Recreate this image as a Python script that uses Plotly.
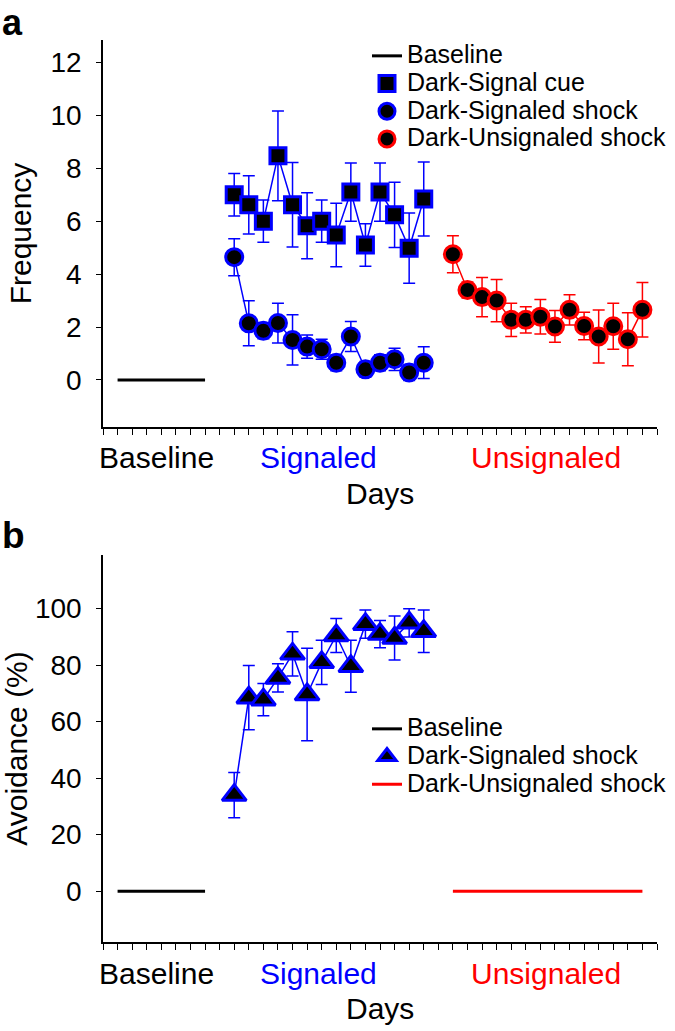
import plotly.graph_objects as go

# ---------------- data ----------------
baseline_days = [1, 7]
baseline_vals = [0, 0]

signaled_days = list(range(9, 23))
unsignaled_days = list(range(24, 38))

cue_freq = [7.0, 6.62, 6.0, 8.47, 6.62, 5.83, 6.0, 5.48, 7.1, 5.1, 7.1, 6.24, 4.98, 6.84]
cue_err = [0.8, 1.1, 0.8, 1.7, 1.6, 1.25, 0.8, 1.2, 1.1, 0.8, 1.1, 1.23, 1.33, 1.4]

sig_shock_freq = [4.64, 2.14, 1.86, 2.15, 1.51, 1.26, 1.16, 0.65, 1.64, 0.4, 0.65, 0.78, 0.28, 0.65]
sig_shock_err = [0.7, 0.85, 0.3, 0.75, 0.95, 0.44, 0.38, 0.3, 0.57, 0.3, 0.3, 0.42, 0.3, 0.6]

unsig_shock_freq = [4.75, 3.4, 3.13, 3.0, 2.27, 2.27, 2.39, 2.02, 2.65, 2.04, 1.64, 2.03, 1.54, 2.65]
unsig_shock_err = [0.7, 0.3, 0.74, 0.8, 0.63, 0.5, 0.65, 0.6, 0.57, 0.52, 1.0, 0.87, 1.0, 1.03]

avoid_sig = [34, 68.5, 67.8, 75.5, 84, 69.6, 81, 90.5, 79.6, 94.5, 91, 89.6, 95, 92]
avoid_sig_err = [8, 11.4, 5.7, 5, 7.8, 16.4, 7.8, 6, 9.2, 5, 4.8, 7.8, 5, 7.5]
avoid_unsig_days = [24, 37]
avoid_unsig_vals = [0, 0]

group_labels = ["Baseline", "Signaled", "Unsignaled"]
group_colors = ["black", "blue", "red"]
group_centers = [3.7, 14.8, 30.4]

freq_ticks = [0, 2, 4, 6, 8, 10, 12]
avoid_ticks = [0, 20, 40, 60, 80, 100]

# ---------------- layout geometry ----------------
W, H = 675, 1031
ML, MR, MT, MB = 103, 18, 40, 89
PH = H - MT - MB
PW = W - ML - MR


def py(p):
    return 1 - (p - MT) / PH


def px(p):
    return (p - ML) / PW


BLUE = "#0000FF"
RED = "#FF0000"
FONT = "Liberation Sans, Arial, sans-serif"

fig = go.Figure()


def add_series(xs, ys, err, color, symbol, size, name, xa, ya, legend):
    fig.add_trace(go.Scatter(x=xs, y=ys, mode="lines", line=dict(color=color, width=1.5),
                             showlegend=False, hoverinfo="skip", xaxis=xa, yaxis=ya))
    fig.add_trace(go.Scatter(x=xs, y=ys, mode="markers", name=name,
                             error_y=dict(type="data", array=err, color=color, thickness=1.5, width=6),
                             marker=dict(symbol=symbol, size=size, color="black",
                                         line=dict(color=color, width=3)),
                             xaxis=xa, yaxis=ya, legend=legend))


def lg(txt):
    return '<span style="font-size:25px">' + txt + '</span>'


# Panel a
fig.add_trace(go.Scatter(x=baseline_days, y=baseline_vals, mode="lines", name=lg("Baseline"),
                         line=dict(color="black", width=3), xaxis="x", yaxis="y", legend="legend"))
add_series(signaled_days, cue_freq, cue_err, BLUE, "square", 16, lg("Dark-Signal cue"), "x", "y", "legend")
add_series(signaled_days, sig_shock_freq, sig_shock_err, BLUE, "circle", 17, lg("Dark-Signaled shock"), "x", "y", "legend")
add_series(unsignaled_days, unsig_shock_freq, unsig_shock_err, RED, "circle", 17, lg("Dark-Unsignaled shock"), "x", "y", "legend")

# Panel b
fig.add_trace(go.Scatter(x=baseline_days, y=baseline_vals, mode="lines", name=lg("Baseline"),
                         line=dict(color="black", width=3), xaxis="x2", yaxis="y2", legend="legend2"))
add_series(signaled_days, avoid_sig, avoid_sig_err, BLUE, "triangle-up", 21, lg("Dark-Signaled shock"), "x2", "y2", "legend2")
fig.add_trace(go.Scatter(x=avoid_unsig_days, y=avoid_unsig_vals, mode="lines", name=lg("Dark-Unsignaled shock"),
                         line=dict(color=RED, width=3), xaxis="x2", yaxis="y2", legend="legend2"))

xcommon = dict(range=[0, 38], tickmode="linear", tick0=0, dtick=1, ticks="outside", ticklen=6,
               tickwidth=1.2, tickcolor="black", showticklabels=False, showline=True,
               linecolor="black", linewidth=1.5, showgrid=False, zeroline=False, automargin=False)
ycommon = dict(ticks="outside", ticklen=5, tickwidth=1.2, tickcolor="black", showline=True,
               linecolor="black", linewidth=1.5, showgrid=False, zeroline=False, automargin=False,
               ticklabelstandoff=9, tickfont=dict(size=28, color="black", family=FONT))

top_a, bot_a = 40, 427
top_b, bot_b = 555, 942

annotations = []
for lab, col, c in zip(group_labels, group_colors, group_centers):
    annotations.append(dict(x=c, xref="x", y=py(bot_a + 31), yref="paper", text=lab, showarrow=False,
                            font=dict(size=30, color=col, family=FONT), xanchor="center", yanchor="middle"))
    annotations.append(dict(x=c, xref="x2", y=py(bot_b + 31), yref="paper", text=lab, showarrow=False,
                            font=dict(size=30, color=col, family=FONT), xanchor="center", yanchor="middle"))
for b in (bot_a, bot_b):
    annotations.append(dict(x=0.5, xref="paper", y=py(b + 66), yref="paper", text="Days", showarrow=False,
                            font=dict(size=30, color="black", family=FONT), xanchor="center", yanchor="middle"))
annotations.append(dict(x=px(0), xref="paper", y=py(0), yref="paper", text="<b>a</b>", showarrow=False,
                        font=dict(size=36, color="black", family=FONT), xanchor="left", yanchor="top"))
annotations.append(dict(x=px(0), xref="paper", y=py(535), yref="paper", text="<b>b</b>", showarrow=False,
                        font=dict(size=37, color="black", family=FONT), xanchor="left", yanchor="middle"))

fig.update_layout(
    width=W, height=H, autosize=False,
    margin=dict(l=ML, r=MR, t=MT, b=MB, autoexpand=False),
    paper_bgcolor="white", plot_bgcolor="white",
    font=dict(family=FONT, color="black"),
    xaxis=dict(domain=[0, 1], anchor="y", **xcommon),
    yaxis=dict(domain=[py(bot_a), 1], anchor="x", range=[-1.78, 12.85], tickvals=freq_ticks,
               title=dict(text="Frequency", font=dict(size=30, family=FONT), standoff=10), **ycommon),
    xaxis2=dict(domain=[0, 1], anchor="y2", **xcommon),
    yaxis2=dict(domain=[0, py(top_b)], anchor="x2", range=[-18, 119], tickvals=avoid_ticks,
                title=dict(text="Avoidance (%)", font=dict(size=30, family=FONT), standoff=4), **ycommon),
    legend=dict(x=px(367), y=py(37), xanchor="left", yanchor="top", bgcolor="rgba(0,0,0,0)",
                font=dict(size=19, family=FONT, color="black"), tracegroupgap=0),
    legend2=dict(x=px(367), y=py(710), xanchor="left", yanchor="top", bgcolor="rgba(0,0,0,0)",
                 font=dict(size=19, family=FONT, color="black"), tracegroupgap=0),
    annotations=annotations,
    showlegend=True,
)

fig.write_html(
    "out.html",
    config={"responsive": False, "displayModeBar": False},
    post_script="document.body.style.margin='0';document.body.style.overflow='hidden';",
)
